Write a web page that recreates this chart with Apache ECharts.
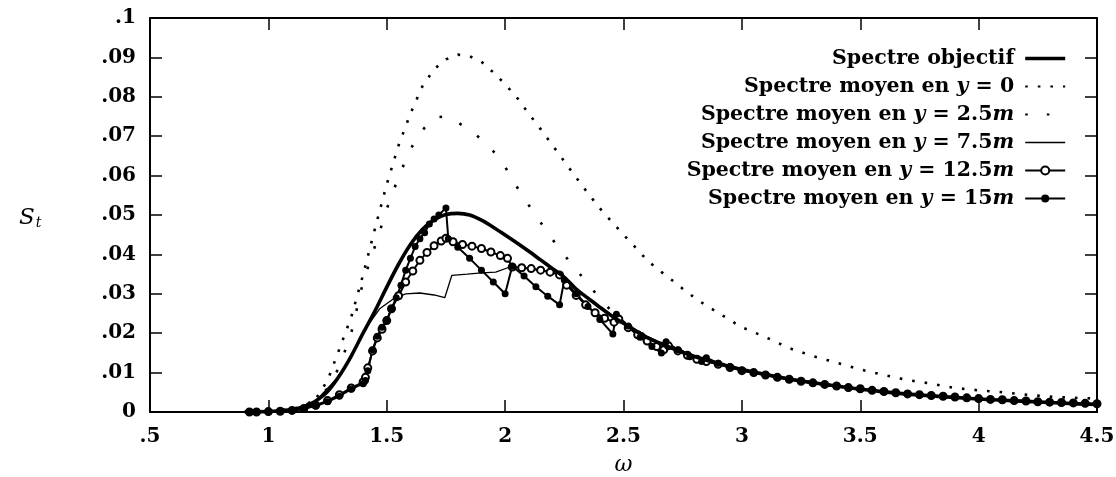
<!DOCTYPE html>
<html>
<head>
<meta charset="utf-8">
<script src="https://cdn.jsdelivr.net/npm/echarts@6/dist/echarts.min.js"></script>
<style>
html,body{margin:0;padding:0;background:#fff;}
#chart{width:1116px;height:477px;}
</style>
</head>
<body>
<div id="chart"></div>
<script>
// ---- Data ----
var xTicks = [0.5, 1, 1.5, 2, 2.5, 3, 3.5, 4, 4.5];
var yTicks = [0, 0.01, 0.02, 0.03, 0.04, 0.05, 0.06, 0.07, 0.08, 0.09, 0.1];

var seriesNames = [
  'Spectre objectif',
  'Spectre moyen en y = 0',
  'Spectre moyen en y = 2.5m',
  'Spectre moyen en y = 7.5m',
  'Spectre moyen en y = 12.5m',
  'Spectre moyen en y = 15m'
];

// Spectre objectif
var wObj = [0.9,1.0,1.05,1.1,1.15,1.2,1.25,1.3,1.35,1.4,1.45,1.5,1.55,1.6,1.65,1.7,1.75,1.8,1.85,1.9,1.95,2.0,2.05,2.1,2.15,2.2,2.25,2.3,2.35,2.4,2.45,2.5,2.55,2.6,2.7,2.8,2.9,3.0,3.2,3.4,3.6,3.8,4.0,4.2,4.4,4.5];
var sObj = [0,0.0001,0.0003,0.0006,0.0012,0.0028,0.0052,0.0092,0.0142,0.0200,0.0256,0.0317,0.0375,0.0425,0.0463,0.0488,0.0501,0.0504,0.0500,0.0487,0.0469,0.0449,0.0429,0.0408,0.0386,0.0364,0.0342,0.0312,0.0289,0.0266,0.0244,0.0225,0.0206,0.0189,0.0163,0.0141,0.0123,0.0108,0.0084,0.0066,0.0051,0.0041,0.0033,0.0027,0.0021,0.0019];

// Spectre moyen en y = 0
var w0 = [0.9,1.0,1.1,1.15,1.2,1.25,1.3,1.35,1.4,1.45,1.5,1.55,1.6,1.65,1.7,1.75,1.8,1.85,1.9,1.95,2.0,2.05,2.1,2.15,2.2,2.25,2.3,2.35,2.4,2.45,2.5,2.55,2.6,2.65,2.7,2.75,2.8,2.85,2.9,2.95,3.0,3.1,3.2,3.3,3.4,3.5,3.6,3.7,3.8,3.9,4.0,4.1,4.2,4.3,4.4,4.5];
var s0 = [0,0.0002,0.0008,0.0015,0.0033,0.0080,0.0160,0.0241,0.0348,0.0465,0.0578,0.0677,0.0757,0.0826,0.0870,0.0895,0.0907,0.0903,0.0889,0.0862,0.0832,0.0798,0.0757,0.0718,0.0677,0.0636,0.0595,0.0555,0.0517,0.0483,0.0450,0.0418,0.0385,0.0360,0.0337,0.0313,0.0290,0.0270,0.0252,0.0233,0.0215,0.0190,0.0162,0.0142,0.0125,0.0108,0.0094,0.0081,0.0072,0.0061,0.0055,0.0050,0.0044,0.0039,0.0036,0.0034];

// Spectre moyen en y = 2.5m
var w25 = [0.9,1.0,1.1,1.2,1.25,1.3,1.35,1.4,1.45,1.5,1.55,1.6,1.65,1.7,1.75,1.8,1.85,1.9,1.95,2.0,2.05,2.1,2.15,2.2,2.25,2.3,2.35,2.4,2.45,2.5,2.6,2.7,2.8,2.9,3.0,3.2,3.4,3.6,3.8,4.0,4.2,4.4,4.5];
var s25 = [0,0.0001,0.0006,0.0030,0.0060,0.0115,0.0200,0.0330,0.0420,0.0515,0.0597,0.0667,0.0715,0.0748,0.0750,0.0735,0.0716,0.0692,0.0662,0.0622,0.0571,0.0525,0.0481,0.0438,0.0398,0.0363,0.0323,0.0290,0.0255,0.0228,0.0192,0.0165,0.0143,0.0125,0.0109,0.0084,0.0066,0.0052,0.0041,0.0033,0.0027,0.0021,0.0019];

// Spectre moyen en y = 7.5m
var w75 = [0.9,1.0,1.1,1.2,1.3,1.35,1.4,1.43,1.47,1.53,1.58,1.64,1.7,1.745,1.775,1.84,1.9,1.96,2.02,2.1,2.2,2.25,2.3,2.4,2.5,2.6,2.7,2.8,2.9,3.0,3.2,3.4,3.6,3.8,4.0,4.2,4.4,4.5];
var s75 = [0,0.0001,0.0006,0.0028,0.0092,0.0142,0.0200,0.0228,0.0262,0.0288,0.0300,0.0302,0.0297,0.0290,0.0347,0.0350,0.0353,0.0355,0.0368,0.0364,0.0356,0.0340,0.0312,0.0265,0.0228,0.0192,0.0164,0.0142,0.0124,0.0108,0.0085,0.0066,0.0052,0.0041,0.0033,0.0027,0.0022,0.0019];

// Spectre moyen en y = 12.5m
var w125 = [0.92,0.95,1.0,1.05,1.1,1.15,1.2,1.25,1.3,1.35,1.4,1.41,1.42,1.44,1.46,1.48,1.5,1.52,1.55,1.58,1.61,1.64,1.67,1.7,1.73,1.75,1.78,1.82,1.86,1.9,1.94,1.98,2.01,2.03,2.07,2.11,2.15,2.19,2.23,2.26,2.3,2.34,2.38,2.42,2.46,2.48,2.52,2.56,2.6,2.64,2.67,2.69,2.73,2.77,2.81,2.85,2.9,2.95,3.0,3.05,3.1,3.15,3.2,3.25,3.3,3.35,3.4,3.45,3.5,3.55,3.6,3.65,3.7,3.75,3.8,3.85,3.9,3.95,4.0,4.05,4.1,4.15,4.2,4.25,4.3,4.35,4.4,4.45,4.5];
var s125 = [0,0,0.0001,0.0002,0.0004,0.0009,0.0017,0.0029,0.0044,0.0061,0.0076,0.0088,0.0112,0.0155,0.0188,0.0210,0.0232,0.0262,0.0295,0.0330,0.0358,0.0385,0.0405,0.0422,0.0434,0.0441,0.0432,0.0425,0.0421,0.0415,0.0406,0.0397,0.0390,0.0368,0.0366,0.0364,0.0360,0.0355,0.0348,0.0322,0.0296,0.0272,0.0252,0.0238,0.0228,0.0236,0.0214,0.0196,0.0180,0.0166,0.0158,0.0168,0.0155,0.0144,0.0134,0.0128,0.0121,0.0113,0.0105,0.0100,0.0094,0.0088,0.0083,0.0078,0.0074,0.0070,0.0066,0.0062,0.0059,0.0055,0.0052,0.0049,0.0046,0.0044,0.0042,0.0040,0.0038,0.0036,0.0034,0.0032,0.0031,0.0029,0.0028,0.0026,0.0025,0.0024,0.0023,0.0022,0.0021];

// Spectre moyen en y = 15m
var w15 = [0.92,0.95,1.0,1.05,1.1,1.15,1.2,1.25,1.3,1.35,1.4,1.41,1.42,1.44,1.46,1.48,1.5,1.52,1.54,1.56,1.58,1.6,1.62,1.64,1.66,1.68,1.7,1.72,1.75,1.76,1.8,1.85,1.9,1.95,2.0,2.03,2.08,2.13,2.18,2.23,2.25,2.3,2.35,2.4,2.455,2.47,2.52,2.57,2.62,2.66,2.68,2.73,2.78,2.83,2.85,2.9,2.95,3.0,3.05,3.1,3.15,3.2,3.25,3.3,3.35,3.4,3.45,3.5,3.55,3.6,3.65,3.7,3.75,3.8,3.85,3.9,3.95,4.0,4.05,4.1,4.15,4.2,4.25,4.3,4.35,4.4,4.45,4.5];
var s15 = [0,0,0,0.0001,0.0003,0.0008,0.0015,0.0026,0.0040,0.0058,0.0072,0.0080,0.0105,0.0158,0.0192,0.0215,0.0234,0.0262,0.0290,0.0322,0.0360,0.0390,0.0420,0.0440,0.0455,0.0477,0.0490,0.0500,0.0518,0.0440,0.0418,0.0390,0.0360,0.0330,0.0300,0.0370,0.0345,0.0318,0.0294,0.0272,0.0335,0.0300,0.0268,0.0235,0.0198,0.0248,0.0218,0.0190,0.0166,0.0150,0.0178,0.0158,0.0140,0.0128,0.0138,0.0124,0.0115,0.0106,0.0099,0.0093,0.0088,0.0082,0.0078,0.0073,0.0069,0.0065,0.0061,0.0058,0.0055,0.0052,0.0048,0.0046,0.0043,0.0041,0.0039,0.0037,0.0035,0.0033,0.0031,0.0030,0.0028,0.0027,0.0025,0.0024,0.0023,0.0022,0.0021,0.0020];

function pairs(w, s) { return w.map(function (x, i) { return [x, s[i]]; }); }

function fmtNum(v) {
  var r = Math.round(v * 1000) / 1000;
  if (r === 0) return '0';
  return String(r).replace(/^0\./, '.');
}

var FONT = 'DejaVu Serif';
var labelStyle = { fontFamily: FONT, fontWeight: 'bold', fontSize: 20, color: '#000' };

var rich = {
  b: { fontFamily: FONT, fontWeight: 'bold', fontSize: 20.5, lineHeight: 22, color: '#000' },
  i: { fontFamily: FONT, fontWeight: 'bold', fontStyle: 'italic', fontSize: 20.5, lineHeight: 22, color: '#000' }
};
var legendRich = {
  'Spectre objectif': '{b|Spectre objectif}',
  'Spectre moyen en y = 0': '{b|Spectre moyen en }{i|y}{b| = 0}',
  'Spectre moyen en y = 2.5m': '{b|Spectre moyen en }{i|y}{b| = 2.5}{i|m}',
  'Spectre moyen en y = 7.5m': '{b|Spectre moyen en }{i|y}{b| = 7.5}{i|m}',
  'Spectre moyen en y = 12.5m': '{b|Spectre moyen en }{i|y}{b| = 12.5}{i|m}',
  'Spectre moyen en y = 15m': '{b|Spectre moyen en }{i|y}{b| = 15}{i|m}'
};

var legendData = [
  { name: seriesNames[0], itemStyle: { opacity: 0 }, lineStyle: { width: 3.6 } },
  { name: seriesNames[1], itemStyle: { opacity: 0 } },
  { name: seriesNames[2], itemStyle: { opacity: 0 } },
  { name: seriesNames[3], itemStyle: { opacity: 0 }, lineStyle: { width: 1.3 } },
  { name: seriesNames[4] },
  { name: seriesNames[5] }
];

var axisBase = {
  type: 'value',
  axisLine: { show: true, onZero: false, lineStyle: { color: '#000', width: 2 } },
  axisTick: { show: true, inside: true, length: 12, lineStyle: { color: '#000', width: 1.5 } },
  splitLine: { show: false }
};

var chart = echarts.init(document.getElementById('chart'), null, { renderer: 'canvas' });
chart.setOption({
  animation: false,
  backgroundColor: '#fff',
  color: ['#000'],
  grid: { left: 150, right: 19, top: 18, bottom: 65, containLabel: false, outerBoundsMode: 'none' },
  xAxis: [
    Object.assign({}, axisBase, {
      position: 'bottom', min: xTicks[0], max: xTicks[xTicks.length - 1], interval: 0.5,
      axisLabel: Object.assign({ margin: 15, formatter: fmtNum }, labelStyle),
      name: 'ω', nameLocation: 'middle', nameGap: 42,
      nameTextStyle: { fontFamily: FONT, fontStyle: 'italic', fontSize: 22, color: '#000' }
    }),
    Object.assign({}, axisBase, {
      position: 'top', min: xTicks[0], max: xTicks[xTicks.length - 1], interval: 0.5,
      axisLabel: { show: false }
    })
  ],
  yAxis: [
    Object.assign({}, axisBase, {
      position: 'left', min: yTicks[0], max: yTicks[yTicks.length - 1], interval: 0.01,
      axisLabel: Object.assign({ margin: 14, formatter: fmtNum }, labelStyle)
    }),
    Object.assign({}, axisBase, {
      position: 'right', min: yTicks[0], max: yTicks[yTicks.length - 1], interval: 0.01,
      axisLabel: { show: false }
    })
  ],
  graphic: [{
    type: 'text', left: 19, top: 207,
    style: {
      text: '{s|S}{t|t}',
      rich: {
        s: { fontFamily: FONT, fontStyle: 'italic', fontSize: 23, fill: '#000' },
        t: { fontFamily: FONT, fontStyle: 'italic', fontSize: 14, fill: '#000', padding: [10, 0, 0, 1] }
      }
    }
  }],
  legend: {
    show: true,
    orient: 'vertical',
    right: 44, top: 43,
    align: 'right',
    itemWidth: 40, itemHeight: 10, itemGap: 7,
    selectedMode: false,
    data: legendData,
    formatter: function (name) { return legendRich[name]; },
    textStyle: { rich: rich, padding: [0, 6, 0, 0] }
  },
  series: [
    {
      name: seriesNames[1], type: 'line', data: pairs(w0, s0), showSymbol: false, symbol: 'none',
      lineStyle: { color: '#000', width: 2.6, type: [2.6, 10], cap: 'butt' }, z: 2
    },
    {
      name: seriesNames[2], type: 'line', data: pairs(w25, s25), showSymbol: false, symbol: 'none',
      lineStyle: { color: '#000', width: 2.6, type: [2.6, 19], cap: 'butt' }, z: 2
    },
    {
      name: seriesNames[3], type: 'line', data: pairs(w75, s75), showSymbol: false, symbol: 'none',
      lineStyle: { color: '#000', width: 1.3 }, z: 3
    },
    {
      name: seriesNames[4], type: 'line', data: pairs(w125, s125), symbol: 'emptyCircle', symbolSize: 7,
      showSymbol: true,
      itemStyle: { color: '#000', borderColor: '#000', borderWidth: 1.8 },
      lineStyle: { color: '#000', width: 2 }, z: 4
    },
    {
      name: seriesNames[5], type: 'line', data: pairs(w15, s15), symbol: 'circle', symbolSize: 7,
      showSymbol: true,
      itemStyle: { color: '#000' },
      lineStyle: { color: '#000', width: 2 }, z: 4
    },
    {
      name: seriesNames[0], type: 'line', data: pairs(wObj, sObj), showSymbol: false, symbol: 'none',
      smooth: 0.3,
      lineStyle: { color: '#000', width: 3.6 }, z: 5
    }
  ]
});
</script>
</body>
</html>
